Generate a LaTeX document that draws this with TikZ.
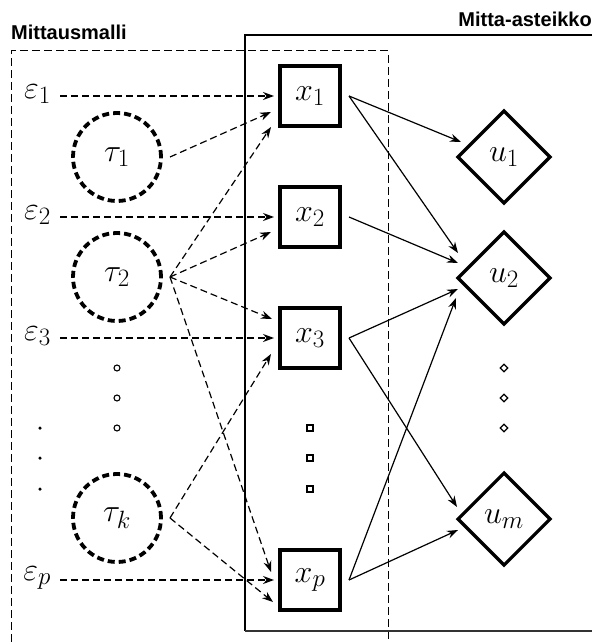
\documentclass[tikz,border=0pt]{standalone}
\usepackage{fix-cm}
\usepackage{fontspec}
\newfontfamily\labelfont{Liberation Sans}
\DeclareMathSizes{32}{32}{25}{19}
\usetikzlibrary{shapes.geometric,arrows.meta}
\tikzset{
  bigmath/.style={font=\fontsize{32}{34}\selectfont},
  obs/.style={draw, line width=3.2pt, minimum size=60pt, inner sep=0pt, outer sep=0pt, bigmath},
  lat/.style={circle, draw, line width=3.8pt, dash pattern=on 7pt off 4pt, minimum size=88pt, inner sep=0pt, outer sep=0pt, bigmath},
  scl/.style={diamond, draw, line width=3.2pt, minimum size=92pt, inner sep=0pt, outer sep=0pt, bigmath},
  errlab/.style={anchor=east, inner sep=0pt, bigmath},
  darr/.style={line width=1.2pt, dash pattern=on 7pt off 4pt, -{Stealth[length=11pt,width=8pt]}},
  sarr/.style={line width=1.2pt, -{Stealth[length=11pt,width=8pt]}},
  smallcirc/.style={circle, draw, line width=1.1pt, minimum size=6pt, inner sep=0pt},
  smallsq/.style={rectangle, draw, line width=1.2pt, minimum size=6pt, inner sep=0pt},
  smalldia/.style={diamond, draw, line width=1.2pt, minimum size=8pt, inner sep=0pt},
  smalldot/.style={circle, fill, minimum size=3.5pt, inner sep=0pt},
  title/.style={font=\labelfont\bfseries\fontsize{20}{22}\selectfont, inner sep=0pt}
}
\begin{document}
\begin{tikzpicture}[x=1pt, y=-1pt]
\useasboundingbox (0,0) rectangle (592,642);
% frames
\draw[line width=1pt, dash pattern=on 8pt off 4pt] (11,642) -- (11,51) -- (388,51) -- (388,642);
\draw[line width=1.2pt] (592,35) -- (245,35) -- (245,631);
\draw[line width=1.6pt, black!80] (245,631) -- (592,631);
\node[title, anchor=base west] (tmm) at (11,40) {Mittausmalli};
\node[title, anchor=base east] (tma) at (592,27) {Mitta-asteikko};
% observed
\node[obs] (x1) at (310,96) {$x_1$};
\node[obs] (x2) at (310,217) {$x_2$};
\node[obs] (x3) at (310,338) {$x_3$};
\node[obs] (xp) at (310,580) {$x_p$};
\node[smallsq] (sq1) at (310,428) {};
\node[smallsq] (sq2) at (310,458) {};
\node[smallsq] (sq3) at (310,489) {};
% latent
\node[lat] (t1) at (117,157) {$\tau_1$};
\node[lat] (t2) at (117,277) {$\tau_2$};
\node[lat] (tk) at (117,518) {$\tau_k$};
\node[smallcirc] (c1) at (117,368) {};
\node[smallcirc] (c2) at (117,398) {};
\node[smallcirc] (c3) at (117,428) {};
% errors
\node[errlab] (e1) at (51,94) {$\varepsilon_1$};
\node[errlab] (e2) at (51,215) {$\varepsilon_2$};
\node[errlab] (e3) at (51,336) {$\varepsilon_3$};
\node[errlab] (ep) at (51,578) {$\varepsilon_p$};
\node[smalldot] (d1) at (40,428) {};
\node[smalldot] (d2) at (40,458) {};
\node[smalldot] (d3) at (40,489) {};
% scales
\node[scl] (u1) at (504,157) {$u_1$};
\node[scl] (u2) at (504,278) {$u_2$};
\node[scl] (um) at (504,519) {$u_m$};
\node[smalldia] (s1) at (504,368) {};
\node[smalldia] (s2) at (504,398) {};
\node[smalldia] (s3) at (504,428) {};
% error arrows
\draw[darr] ([xshift=9pt,yshift=-2pt]e1.east) -- ([xshift=-6pt]x1.west);
\draw[darr] ([xshift=9pt,yshift=-2pt]e2.east) -- ([xshift=-6pt]x2.west);
\draw[darr] ([xshift=9pt,yshift=-2pt]e3.east) -- ([xshift=-6pt]x3.west);
\draw[darr] ([xshift=9pt,yshift=-2pt]ep.east) -- ([xshift=-6pt]xp.west);
% latent arrows
\draw[darr] ([xshift=9pt]t1.east) -- ([xshift=-9pt,yshift=-16pt]x1.west);
\draw[darr] ([xshift=9pt]t2.east) -- ([xshift=-9pt,yshift=-31pt]x1.west);
\draw[darr] ([xshift=9pt]t2.east) -- ([xshift=-9pt,yshift=-15pt]x2.west);
\draw[darr] ([xshift=9pt]t2.east) -- ([xshift=-8pt,yshift=19pt]x3.west);
\draw[darr] ([xshift=9pt]t2.east) -- ([xshift=-9pt,yshift=8pt]xp.west);
\draw[darr] ([xshift=9pt]tk.east) -- ([xshift=-9pt,yshift=-16pt]x3.west);
\draw[darr] ([xshift=9pt]tk.east) -- ([xshift=-7pt,yshift=-22pt]xp.west);
% scale arrows
\draw[sarr] ([xshift=9pt]x1.east) -- ([xshift=-43pt,yshift=15pt]u1.center);
\draw[sarr] ([xshift=9pt]x1.east) -- ([xshift=-46pt,yshift=25pt]u2.center);
\draw[sarr] ([xshift=9pt]x2.east) -- ([xshift=-46pt,yshift=15pt]u2.center);
\draw[sarr] ([xshift=9pt]x3.east) -- ([xshift=-46pt,yshift=-11pt]u2.center);
\draw[sarr] ([xshift=9pt]xp.east) -- ([xshift=-48pt,yshift=-20pt]u2.center);
\draw[sarr] ([xshift=9pt]x3.east) -- ([xshift=-47pt,yshift=12pt]um.center);
\draw[sarr] ([xshift=9pt]xp.east) -- ([xshift=-46pt,yshift=-11pt]um.center);
\end{tikzpicture}
\end{document}
